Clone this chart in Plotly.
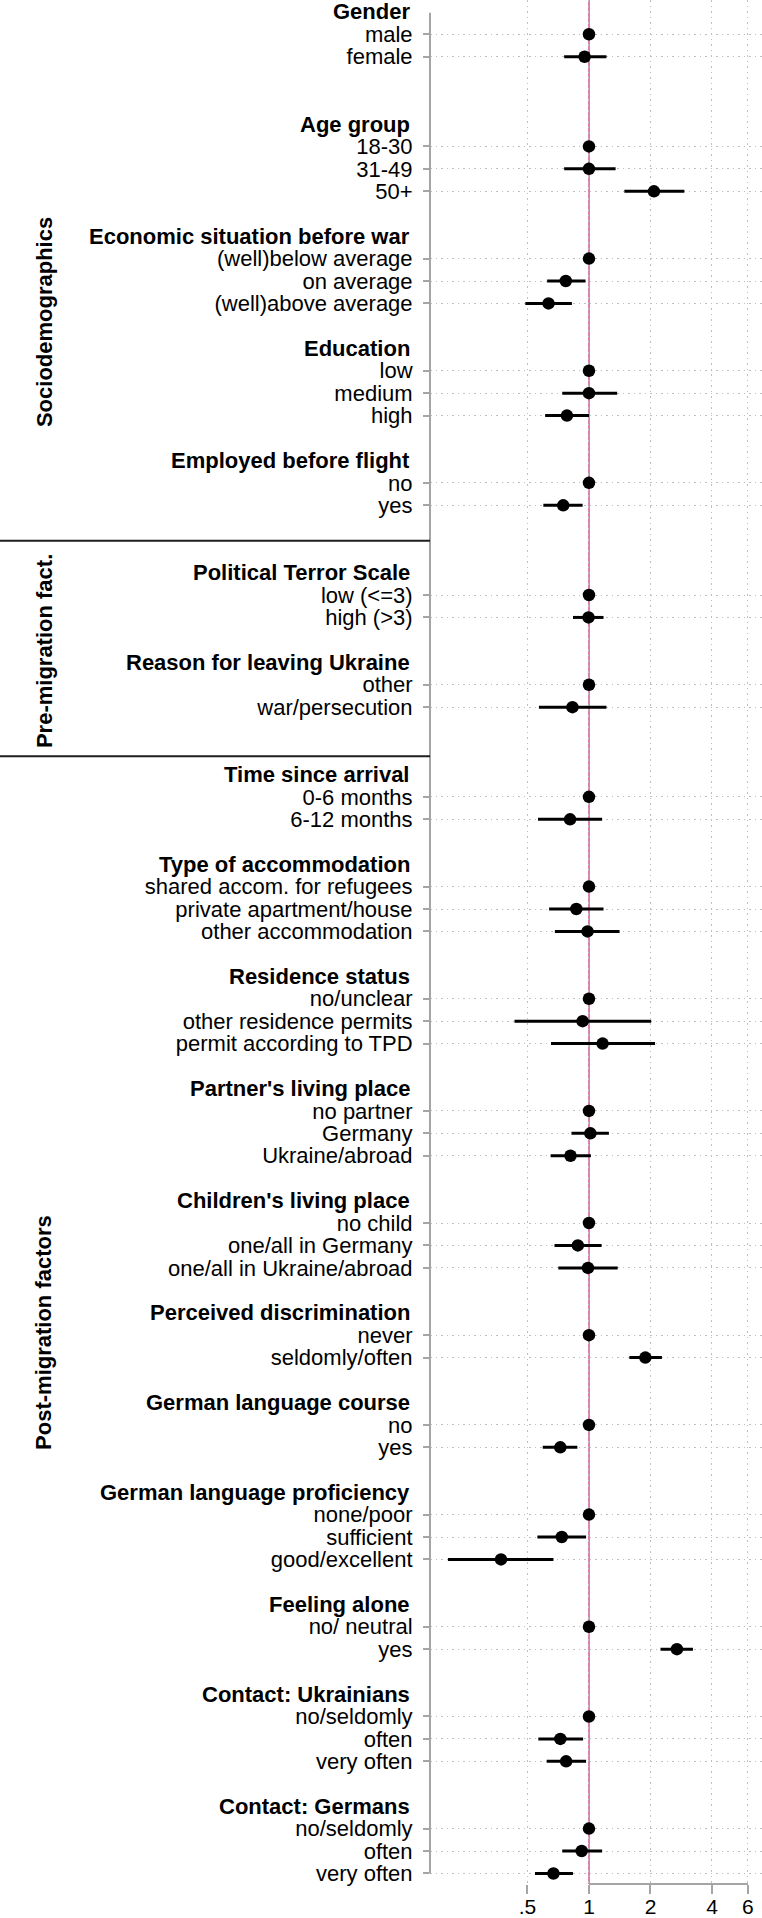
import math
import plotly.graph_objects as go

# ---------------- data ----------------
headers = ["Gender", "Age group", "Economic situation before war", "Education",
           "Employed before flight", "Political Terror Scale", "Reason for leaving Ukraine",
           "Time since arrival", "Type of accommodation", "Residence status",
           "Partner's living place", "Children's living place", "Perceived discrimination",
           "German language course", "German language proficiency", "Feeling alone",
           "Contact: Ukrainians", "Contact: Germans"]
# blank rows inserted before each header
gaps_before = [0, 2, 1, 1, 1, 2, 1, 2, 1, 1, 1, 1, 1, 1, 1, 1, 1, 1]

labels = [
    ["male", "female"],
    ["18-30", "31-49", "50+"],
    ["(well)below average", "on average", "(well)above average"],
    ["low", "medium", "high"],
    ["no", "yes"],
    ["low (<=3)", "high (>3)"],
    ["other", "war/persecution"],
    ["0-6 months", "6-12 months"],
    ["shared accom. for refugees", "private apartment/house", "other accommodation"],
    ["no/unclear", "other residence permits", "permit according to TPD"],
    ["no partner", "Germany", "Ukraine/abroad"],
    ["no child", "one/all in Germany", "one/all in Ukraine/abroad"],
    ["never", "seldomly/often"],
    ["no", "yes"],
    ["none/poor", "sufficient", "good/excellent"],
    ["no/ neutral", "yes"],
    ["no/seldomly", "often", "very often"],
    ["no/seldomly", "often", "very often"],
]
estimate = [
    [1, 0.952], [1, 1.0, 2.08], [1, 0.77, 0.634], [1, 1.0, 0.78], [1, 0.748],
    [1, 0.995], [1, 0.83], [1, 0.808], [1, 0.867, 0.984], [1, 0.931, 1.166],
    [1, 1.016, 0.812], [1, 0.882, 0.989], [1, 1.888], [1, 0.724], [1, 0.736, 0.371],
    [1, 2.695], [1, 0.724, 0.773], [1, 0.921, 0.67],
]
ci_low = [
    [1, 0.756], [1, 0.756, 1.49], [1, 0.624, 0.488], [1, 0.74, 0.61], [1, 0.598],
    [1, 0.835], [1, 0.569], [1, 0.563], [1, 0.638, 0.681], [1, 0.432, 0.652],
    [1, 0.821, 0.649], [1, 0.678, 0.708], [1, 1.576], [1, 0.594], [1, 0.559, 0.204],
    [1, 2.239], [1, 0.565, 0.621], [1, 0.74, 0.544],
]
ci_high = [
    [1, 1.218], [1, 1.35, 2.93], [1, 0.962, 0.825], [1, 1.374, 1.0], [1, 0.931],
    [1, 1.178], [1, 1.218], [1, 1.16], [1, 1.178, 1.412], [1, 2.016, 2.106],
    [1, 1.252, 1.022], [1, 1.153, 1.382], [1, 2.275], [1, 0.877], [1, 0.968, 0.67],
    [1, 3.229], [1, 0.936, 0.968], [1, 1.16, 0.835],
]
section_names = ["Sociodemographics", "Pre-migration fact.", "Post-migration factors"]
section_centers = [12.83, 27.5, 57.9]      # row units
section_separators = [22.58, 32.19]        # row units
reference_value = 1
x_ticks = [0.5, 1, 2, 4, 6]
x_tick_text = [".5", "1", "2", "4", "6"]

# ---------------- layout of rows ----------------
W, H = 762, 1918
L_MARGIN, B_MARGIN = 430, 34
plot_w = W - L_MARGIN
FONT = "Liberation Sans, Arial, Helvetica, sans-serif"
PINK = "rgb(222,125,178)"
GREY = "rgb(165,165,165)"
GRID = "rgb(190,190,190)"

k = -1
header_pos, item_pos, item_txt, est, lo, hi = [], [], [], [], [], []
for gi, h in enumerate(headers):
    if gi > 0:
        k += 1 + gaps_before[gi]
    header_pos.append(k)
    for j, lab in enumerate(labels[gi]):
        k += 1
        item_pos.append(k)
        item_txt.append(lab)
        est.append(estimate[gi][j])
        lo.append(ci_low[gi][j])
        hi.append(ci_high[gi][j])
last_row = k

row_top, row_bottom = -1.529, 82.47

fig = go.Figure()
fig.add_trace(go.Scatter(
    x=est, y=item_pos, mode="markers",
    marker=dict(color="black", size=12.5, line=dict(width=0)),
    error_x=dict(type="data", symmetric=False,
                 array=[h - e for h, e in zip(hi, est)],
                 arrayminus=[e - l for e, l in zip(est, lo)],
                 color="black", thickness=3, width=0),
    showlegend=False, hoverinfo="skip"))

shapes = []
# reference line
shapes.append(dict(type="line", xref="x", yref="paper", x0=reference_value, x1=reference_value,
                   y0=0, y1=1, line=dict(color=PINK, width=2), layer="between"))
# y axis line (from first header to last item)
shapes.append(dict(type="line", xref="paper", yref="y", x0=0, x1=0,
                   y0=header_pos[0] + 0.04, y1=last_row,
                   line=dict(color=GREY, width=2), layer="above"))
# x axis line (1 to 6)
shapes.append(dict(type="line", xref="x", yref="paper", x0=reference_value, x1=x_ticks[-1],
                   y0=0, y1=0, line=dict(color=GREY, width=2), layer="above"))
# section separators
for s in section_separators:
    shapes.append(dict(type="line", xref="paper", yref="y", x0=-L_MARGIN / plot_w, x1=0,
                       y0=s, y1=s, line=dict(color="rgb(30,30,30)", width=2)))

annotations = []
for h, p in zip(headers, header_pos):
    annotations.append(dict(text="<b>%s</b>" % h, xref="paper", yref="y", x=0, y=p,
                            xanchor="right", yanchor="middle", xshift=-18, showarrow=False,
                            font=dict(family=FONT, size=22, color="black")))
for name, c in zip(section_names, section_centers):
    annotations.append(dict(text="<b>%s</b>" % name, xref="paper", yref="y",
                            x=(44 - L_MARGIN) / plot_w, y=c, textangle=-90,
                            xanchor="center", yanchor="middle", showarrow=False,
                            font=dict(family=FONT, size=22, color="black")))

fig.update_layout(
    width=W, height=H,
    margin=dict(l=L_MARGIN, r=0, t=0, b=B_MARGIN, pad=0, autoexpand=False),
    paper_bgcolor="white", plot_bgcolor="white",
    shapes=shapes, annotations=annotations,
    font=dict(family=FONT, size=22, color="black"),
    xaxis=dict(type="log", range=[math.log10(1 / 6.0), math.log10(7.03)],
               tickvals=x_ticks, ticktext=x_tick_text,
               ticks="outside", ticklen=9, tickwidth=2, tickcolor=GREY,
               ticklabelstandoff=-5, automargin=False,
               showline=False, zeroline=False,
               showgrid=True, gridcolor=GRID, gridwidth=1, griddash="1.5px,4px",
               tickfont=dict(family=FONT, size=21, color="black")),
    yaxis=dict(range=[row_bottom, row_top],
               tickvals=item_pos, ticktext=item_txt,
               ticks="outside", ticklen=6, tickwidth=2, tickcolor=GREY,
               ticklabelstandoff=6, automargin=False,
               showline=False, zeroline=False,
               showgrid=True, gridcolor=GRID, gridwidth=1, griddash="1.5px,4px",
               tickfont=dict(family=FONT, size=22, color="black")),
)

fig.write_html("out.html")
